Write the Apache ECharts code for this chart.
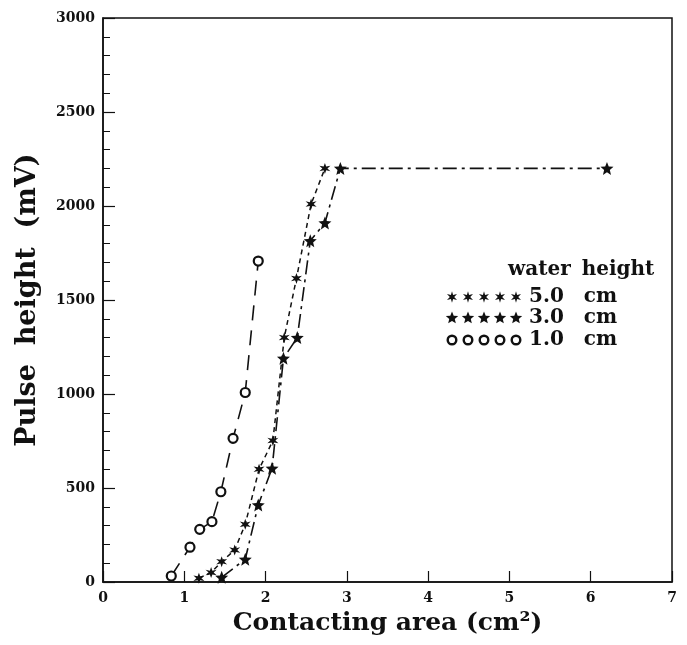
<!DOCTYPE html>
<html><head><meta charset="utf-8">
<script src="https://cdn.jsdelivr.net/npm/echarts@6/dist/echarts.min.js"></script>
<style>html,body{margin:0;padding:0;background:#fff}#c{width:687px;height:645px}</style>
</head><body><div id="c"></div>
<script>
// Data
const area5 = [1.18, 1.33, 1.46, 1.62, 1.75, 1.92, 2.09, 2.23, 2.38, 2.56, 2.73];
const pulse5 = [20, 50, 108, 170, 307, 600, 752, 1300, 1615, 2010, 2200];
const area3 = [1.46, 1.75, 1.91, 2.08, 2.22, 2.39, 2.55, 2.73, 2.92, 6.2];
const pulse3 = [25, 121, 410, 605, 1190, 1300, 1815, 1910, 2200, 2200];
const area1 = [0.84, 1.07, 1.19, 1.34, 1.45, 1.60, 1.75, 1.91];
const pulse1 = [32, 185, 280, 321, 480, 764, 1008, 1707];
const legendTitle = 'water\u2009 height';
const legendLabels = ['5.0\u2002\u2002cm', '3.0\u2002\u2002cm', '1.0\u2002\u2002cm'];

const zip = (xs, ys) => xs.map((x, i) => [x, ys[i]]);
const FONT = '"DejaVu Serif", serif';

// star-shaped polygon helper (marker glyph shapes)
function starPts(cx, cy, n, ro, ri) {
  const pts = [];
  for (let i = 0; i < 2 * n; i++) {
    const a = -Math.PI / 2 + i * Math.PI / n;
    const r = i % 2 === 0 ? ro : ri;
    pts.push([cx + r * Math.cos(a), cy + r * Math.sin(a)]);
  }
  return pts;
}
function starPath(n, ri) {
  const p = starPts(50, 50, n, 50, ri);
  return 'path://M' + p.map(q => q[0].toFixed(1) + ',' + q[1].toFixed(1)).join(' L') + ' Z';
}
const STAR5 = starPath(5, 22);
const AST = starPath(6, 20);

const chart = echarts.init(document.getElementById('c'));

const legendGraphics = [];
legendGraphics.push({type: 'text', x: 508, y: 270,
  style: {text: legendTitle, font: 'bold 20px ' + FONT, fill: '#111', verticalAlign: 'middle'}});
const rowY = [297, 318, 340];
rowY.forEach((y, r) => {
  for (let k = 0; k < 5; k++) {
    const cx = 452 + k * 16;
    if (r === 2) {
      legendGraphics.push({type: 'circle', shape: {cx: cx, cy: y, r: 4.3},
        style: {fill: '#fff', stroke: '#111', lineWidth: 2.4}});
    } else if (r === 1) {
      legendGraphics.push({type: 'polygon', shape: {points: starPts(cx, y, 5, 6.5, 2.9)},
        style: {fill: '#111'}});
    } else {
      legendGraphics.push({type: 'polygon', shape: {points: starPts(cx, y, 6, 5.8, 2.2)},
        style: {fill: '#111'}});
    }
  }
  legendGraphics.push({type: 'text', x: 529, y: y,
    style: {text: legendLabels[r], font: 'bold 20px ' + FONT, fill: '#111', verticalAlign: 'middle'}});
});

chart.setOption({
  animation: false,
  backgroundColor: '#fff',
  grid: {left: 103, right: 15, top: 18, bottom: 63, show: true, borderColor: '#111', borderWidth: 1.5},
  xAxis: {
    type: 'value', min: 0, max: 7, interval: 1,
    name: 'Contacting area (cm²)', nameLocation: 'middle', nameGap: 29,
    nameTextStyle: {fontFamily: FONT, fontWeight: 'bold', fontSize: 25, color: '#111'},
    axisLine: {lineStyle: {color: '#111', width: 1.5}},
    axisTick: {inside: true, length: 11, lineStyle: {color: '#111', width: 1.2}},
    axisLabel: {fontFamily: FONT, fontWeight: 'bold', fontSize: 14, color: '#111', margin: 9},
    splitLine: {show: false}
  },
  yAxis: [{
    type: 'value', min: 0, max: 3000, interval: 500,
    name: 'Pulse  height  (mV)', nameLocation: 'middle', nameGap: 62, nameRotate: 90,
    nameTextStyle: {fontFamily: FONT, fontWeight: 'bold', fontSize: 27, color: '#111'},
    axisLine: {lineStyle: {color: '#111', width: 1.5}},
    axisTick: {inside: true, length: 12, lineStyle: {color: '#111', width: 1.2}},
    axisLabel: {fontFamily: FONT, fontWeight: 'bold', fontSize: 14, color: '#111', margin: 8,
      formatter: v => String(v)},
    splitLine: {show: false}
  }, {
    type: 'value', min: 0, max: 3000, interval: 100, position: 'left', offset: 0,
    axisLine: {show: false},
    axisTick: {show: true, inside: true, length: 7, lineStyle: {color: '#111', width: 1}},
    axisLabel: {show: false},
    splitLine: {show: false}
  }],
  graphic: legendGraphics,
  series: [
    {name: '5.0 cm', type: 'line', data: zip(area5, pulse5), symbol: AST, symbolSize: 11,
     itemStyle: {color: '#111'}, lineStyle: {color: '#111', width: 1.5, type: [5, 4]}, z: 3},
    {name: '3.0 cm', type: 'line', data: zip(area3, pulse3), symbol: STAR5, symbolSize: 13,
     itemStyle: {color: '#111'}, lineStyle: {color: '#111', width: 1.6, type: [14, 5, 3, 5]}, z: 3},
    {name: '1.0 cm', type: 'line', data: zip(area1, pulse1), symbol: 'circle', symbolSize: 9,
     itemStyle: {color: '#fff', borderColor: '#111', borderWidth: 2.2},
     lineStyle: {color: '#111', width: 1.6, type: [15, 10]}, z: 4}
  ]
});
</script></body></html>
